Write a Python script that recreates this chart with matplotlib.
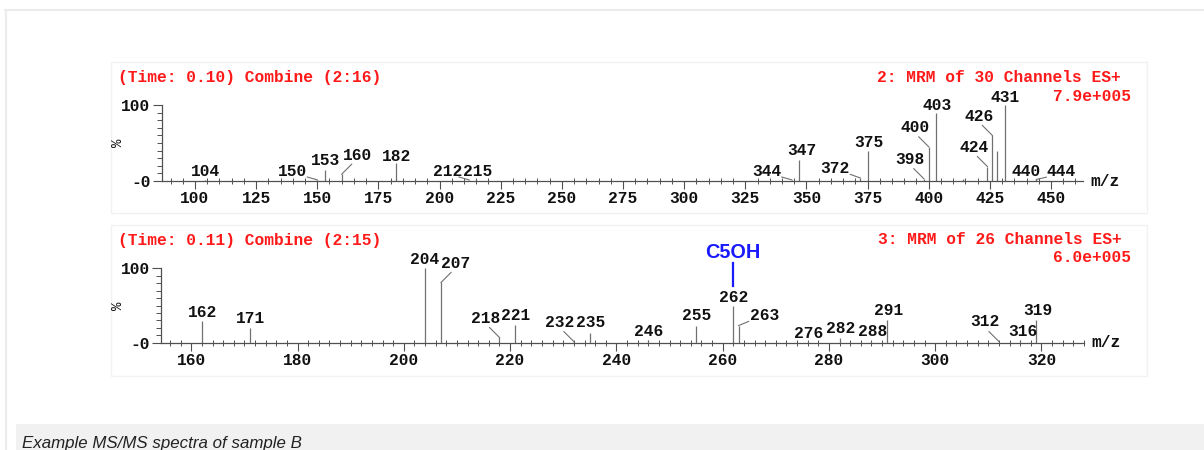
import matplotlib.pyplot as plt
from matplotlib.patches import Rectangle
from matplotlib.lines import Line2D
from matplotlib.ticker import MultipleLocator, FixedLocator
import numpy as np

# spectrum 1: (Time: 0.10) Combine (2:16), 2: MRM of 30 Channels ES+
top_mz = [104, 150, 153, 160, 182, 212, 215, 344, 347, 372, 375, 398, 400,
          403, 414, 424, 426, 428, 431, 440, 444]
top_int = [1.5, 1.5, 14, 9, 24, 1.5, 2.5, 1.5, 27, 4, 39, 3, 45,
           89, 2, 19, 60, 40, 100, 1.5, 2]
top_labeled = [104, 150, 153, 160, 182, 212, 215, 344, 347, 372, 375, 398,
               400, 403, 424, 426, 431, 440, 444]
top_scale = "7.9e+005"

# spectrum 2: (Time: 0.11) Combine (2:15), 3: MRM of 26 Channels ES+
bot_mz = [162, 171, 204, 207, 218, 221, 232, 235, 246, 255, 262, 263,
          276, 282, 288, 291, 312, 316, 319]
bot_int = [29, 20, 100, 81, 7, 24, 1.5, 13, 3, 23, 49, 23,
           2, 6, 2, 30, 1.5, 4, 30]
bot_labeled = bot_mz
bot_scale = "6.0e+005"

# where the peak labels sit (label centre, m/z and %), layout only
top_lab_x = [104.5, 140, 153.5, 166.3, 182.5, 203.5, 215.5, 334, 348, 361.5,
             375.5, 392.3, 394.5, 403.5, 418.5, 420.5, 431.3, 440, 454.3]
top_lab_y = [12.5, 12.5, 27, 33, 32, 12.5, 12.5, 12.5, 40.5, 16,
             51, 28.5, 70, 100, 44, 84.6, 110.5, 12.3, 12.3]
bot_lab_x = [162.2, 171.1, 204, 209.8, 215.3, 221, 229.4, 235.2, 246, 255.1,
             262.1, 267.9, 276.2, 282.2, 288.2, 291.2, 309.4, 316.5, 319.4]
bot_lab_y = [41, 32, 112, 106, 33, 37, 27, 27, 15, 36,
             61, 36, 13, 19, 15, 43, 28, 14.8, 43]

W, H = 1204, 450
MONO = "Liberation Mono"
FS = 11.7


def fx(x):
    return x / W


def fy(y):
    return 1 - y / H


def draw_spectrum(ax, mz, inten, labeled, lab_x, lab_y, xlim, ylim, major, minor):
    ax.set_xlim(*xlim)
    ax.set_ylim(*ylim)
    ax.vlines(mz, 0, inten, color="#707070", lw=0.9)
    for sp in ["top", "right"]:
        ax.spines[sp].set_visible(False)
    ax.spines["left"].set_bounds(0, 100)
    for sp in ["left", "bottom"]:
        ax.spines[sp].set_color("#505050")
        ax.spines[sp].set_linewidth(0.9)
    ax.xaxis.set_major_locator(MultipleLocator(major))
    ax.xaxis.set_minor_locator(MultipleLocator(minor))
    ax.set_yticks([0, 100])
    ax.set_yticklabels(["-0", "100"])
    ax.yaxis.set_minor_locator(FixedLocator(range(10, 100, 10)))
    ax.tick_params(axis="x", which="major", direction="out", length=5.5, width=0.8,
                   color="#505050", pad=2)
    ax.tick_params(axis="x", which="minor", direction="inout", length=4, width=0.7,
                   color="#505050")
    ax.tick_params(axis="y", which="major", direction="out", length=6.5, width=0.8,
                   color="#505050", pad=1.5)
    ax.tick_params(axis="y", which="minor", direction="out", length=3.5, width=0.7,
                   color="#505050")
    for t in ax.get_xticklabels() + ax.get_yticklabels():
        t.set_fontfamily(MONO)
        t.set_fontweight("bold")
        t.set_fontsize(FS)
        t.set_color("#111111")

    # pixels per data unit
    x0 = ax.transData.transform((xlim[0], 0))
    x1 = ax.transData.transform((xlim[1], ylim[1]))
    ppx = (x1[0] - x0[0]) / (xlim[1] - xlim[0])
    ppy = (x1[1] - x0[1]) / (ylim[1] - ylim[0])

    for m, lx, ly in zip(labeled, lab_x, lab_y):
        h = inten[mz.index(m)]
        ax.text(lx, ly, str(m), ha="center", va="center", fontfamily=MONO,
                fontweight="bold", fontsize=FS, color="#111111", clip_on=False)
        if abs(lx - m) * ppx > 5:
            # short diagonal leader from the peak top towards its label
            s = np.sign(m - lx)
            ex = m - s * 10 / ppx
            ey = min(h + 10 / ppy, ly - 5.5 / ppy)
            ax.plot([m, ex], [h, ey], color="#707070", lw=0.8, clip_on=False)

    ax.text(-0.047, 50, "%", transform=ax.get_yaxis_transform(), rotation=90,
            ha="center", va="center", fontfamily=MONO, fontsize=10, color="#111111")
    ax.text(1.008, 0, "m/z", transform=ax.get_yaxis_transform(), ha="left",
            va="center", fontfamily=MONO, fontweight="bold", fontsize=FS,
            color="#111111")


fig = plt.figure(figsize=(W / 100, H / 100), dpi=100)
fig.patch.set_facecolor("white")

# page frame and caption band
fig.add_artist(Line2D([fx(5), 1], [fy(10), fy(10)], color="#ececec", lw=1.5, zorder=-5))
fig.add_artist(Line2D([fx(5.5), fx(5.5)], [fy(10), 0], color="#ececec", lw=1.5, zorder=-5))
fig.add_artist(Rectangle((fx(16), 0), 1 - fx(16), fy(424), color="#f1f1f1", lw=0, zorder=-5))
fig.text(fx(22), fy(448), "Example MS/MS spectra of sample B", fontfamily="Liberation Sans",
         style="italic", fontsize=12.2, color="#222222", va="baseline", ha="left")

# faint boxes around the two spectra images
for y0, y1 in [(62, 213), (225.5, 376)]:
    fig.add_artist(Rectangle((fx(110.5), fy(y1)), fx(1146.5) - fx(110.5), fy(y0) - fy(y1),
                             facecolor="white", edgecolor="#f2f2f2", lw=1, zorder=-5))

ax1 = fig.add_axes([fx(161.7), fy(181), fx(1083.3) - fx(161.7), fy(86) - fy(181)])
ax1.patch.set_alpha(0)
draw_spectrum(ax1, top_mz, top_int, top_labeled, top_lab_x, top_lab_y,
              (86.4, 463.2), (0, 125), 25, 5)

ax2 = fig.add_axes([fx(161), fy(342.7), fx(1084) - fx(161), fy(246) - fy(342.7)])
ax2.patch.set_alpha(0)
draw_spectrum(ax2, bot_mz, bot_int, bot_labeled, bot_lab_x, bot_lab_y,
              (154.3, 328.0), (0, 130), 20, 2)

# C5OH marker over m/z 262
ax2.plot([262, 262], [76, 107], color="#1a1aff", lw=1.6, clip_on=False)
ax2.text(262, 121, "C5OH", ha="center", va="center", fontfamily="Liberation Sans",
         fontweight="bold", fontsize=14.3, color="#1a1aff", clip_on=False)

red = "#ff1a1a"
hdr = dict(fontfamily=MONO, fontweight="bold", fontsize=FS, color=red, va="center")
fig.text(fx(118), fy(77.5), "(Time: 0.10) Combine (2:16)", ha="left", **hdr)
fig.text(fx(1121), fy(77.5), "2: MRM of 30 Channels ES+", ha="right", **hdr)
fig.text(fx(1131), fy(96.5), top_scale, ha="right", **hdr)
fig.text(fx(118), fy(240), "(Time: 0.11) Combine (2:15)", ha="left", **hdr)
fig.text(fx(1122), fy(239.5), "3: MRM of 26 Channels ES+", ha="right", **hdr)
fig.text(fx(1131), fy(257.5), bot_scale, ha="right", **hdr)

fig.savefig("out.png", dpi=100)
